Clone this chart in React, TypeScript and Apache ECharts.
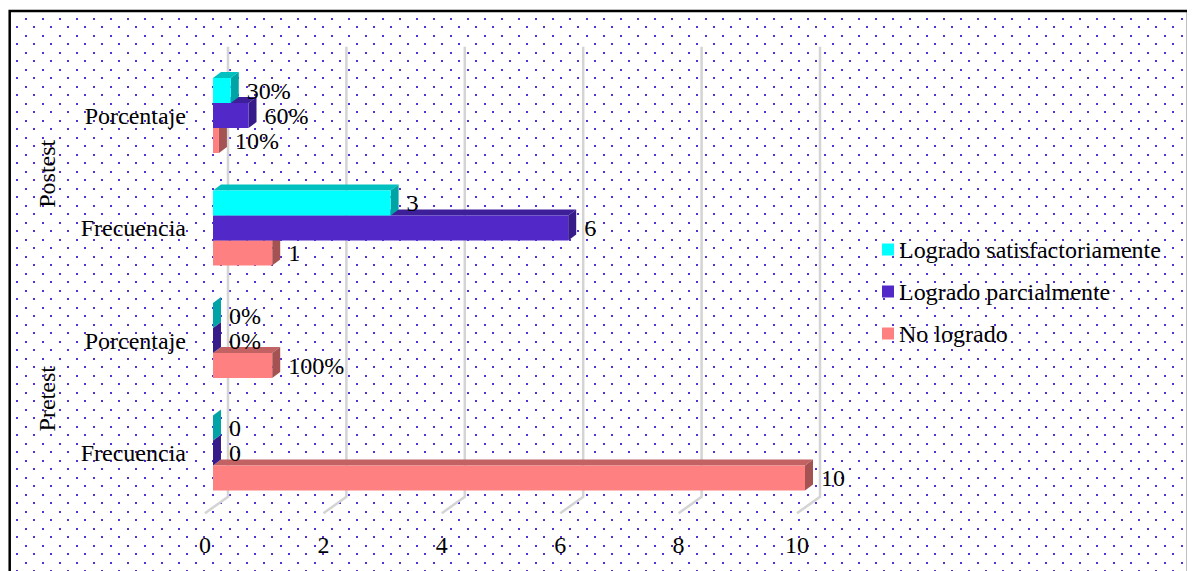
import React, { useEffect, useRef } from "react";
import * as echarts from "echarts";

// Category axis (bottom to top): Pretest Frecuencia, Pretest Porcentaje, Postest Frecuencia, Postest Porcentaje
const categories = ["Frecuencia", "Porcentaje", "Frecuencia", "Porcentaje"];
const groups = ["Pretest", "Postest"];
const seriesNames = ["Logrado satisfactoriamente", "Logrado parcialmente", "No logrado"];

// Values per category (percentages plotted as fractions, as in the original chart)
const logradoSatisfactoriamente = [0, 0, 3, 0.3];
const logradoParcialmente = [0, 0, 6, 0.6];
const noLogrado = [10, 1, 1, 0.1];

const xTicks = [0, 2, 4, 6, 8, 10];

const FONT = '"Liberation Serif", "Times New Roman", serif';
const DX = 8;
const DY = 6;
const BAR_H = 25;

const palette = [
  { front: "#00FFFF", top: "#00C0C0", side: "#00A4A4" },
  { front: "#5229C8", top: "#3E1F9A", side: "#371B88" },
  { front: "#FF8080", top: "#C26262", side: "#A45252" },
];

function barRenderer(pos: number, colors: { front: string; top: string; side: string }) {
  return (params: any, api: any) => {
    const val = api.value(0) as number;
    const cat = api.value(1) as number;
    const start = api.coord([0, cat]);
    const end = api.coord([val, cat]);
    const x0 = start[0];
    const x1 = end[0];
    const y0 = start[1] - 1.5 * BAR_H + pos * BAR_H;
    const y1 = y0 + BAR_H;
    const isPct = categories[cat] === "Porcentaje";
    const label = isPct ? Math.round(val * 100) + "%" : String(val);
    return {
      type: "group",
      children: [
        {
          type: "polygon",
          shape: { points: [[x0, y0], [x1, y0], [x1 + DX, y0 - DY], [x0 + DX, y0 - DY]] },
          style: { fill: colors.top },
        },
        {
          type: "polygon",
          shape: { points: [[x1, y0], [x1 + DX, y0 - DY], [x1 + DX, y1 - DY], [x1, y1]] },
          style: { fill: colors.side },
        },
        {
          type: "rect",
          shape: { x: x0, y: y0, width: x1 - x0, height: BAR_H },
          style: { fill: colors.front },
        },
        {
          type: "text",
          x: x1 + 16,
          y: (y0 + y1) / 2,
          z2: 10,
          style: {
            text: label,
            fill: "#000",
            fontSize: 24,
            fontFamily: FONT,
            align: "left",
            verticalAlign: "middle",
          },
        },
      ],
    };
  };
}

export default function App() {
  const ref = useRef<HTMLDivElement>(null);

  useEffect(() => {
    if (!ref.current) return;
    document.documentElement.style.overflow = "hidden";
    const chart = echarts.init(ref.current, null, { renderer: "svg" });

    const canvas = document.createElement("canvas");
    canvas.width = 17;
    canvas.height = 17;
    const ctx = canvas.getContext("2d");
    if (ctx) {
      ctx.fillStyle = "#ffffff";
      ctx.fillRect(0, 0, 17, 17);
      ctx.fillStyle = "#5530d8";
      ctx.fillRect(8, 1, 2, 2);
      ctx.fillRect(0, 10, 2, 2);
    }
    const pattern = {
      image: canvas.toDataURL(),
      repeat: "repeat",
      imageWidth: 17,
      imageHeight: 17,
    };

    const valueLists = [logradoSatisfactoriamente, logradoParcialmente, noLogrado];

    const barSeries = [2, 1, 0].map((i) => ({
      type: "custom",
      name: seriesNames[i],
      itemStyle: { color: palette[i].front },
      renderItem: barRenderer(i, palette[i]),
      data: valueLists[i].map((v, c) => [v, c]),
      encode: { x: 0, y: 1 },
      silent: true,
    }));

    const option: any = {
      animation: false,
      graphic: [
        {
          type: "rect",
          z: -10,
          silent: true,
          shape: { x: 1.7, y: 3, width: 1178.3, height: 700 },
          style: { fill: pattern },
        },
        {
          type: "rect",
          z: 100,
          silent: true,
          shape: { x: 1.7, y: 3, width: 1178.3, height: 700 },
          style: { fill: "none", stroke: "#000", lineWidth: 2.5 },
        },
      ],
      grid: { left: 205, top: 51.25, width: 592, height: 450 },
      legend: {
        orient: "vertical",
        left: 869,
        top: 224.5,
        itemWidth: 12,
        itemHeight: 12,
        itemGap: 18,
        icon: "rect",
        selectedMode: false,
        textStyle: { fontSize: 24, fontFamily: FONT, color: "#000", lineHeight: 24 },
        data: seriesNames,
      },
      xAxis: {
        type: "value",
        min: 0,
        max: 10,
        interval: 2,
        axisLine: { show: false },
        axisTick: { show: false },
        splitLine: { show: false },
        axisLabel: {
          fontSize: 24,
          fontFamily: FONT,
          color: "#000",
          margin: 24,
          padding: [0, 16, 0, 0],
        },
      },
      yAxis: [
        {
          type: "category",
          data: categories,
          axisLine: { show: false },
          axisTick: { show: false },
          splitLine: { show: false },
          axisLabel: {
            fontSize: 24,
            fontFamily: FONT,
            color: "#000",
            margin: 27,
            padding: [6, 0, 0, 0],
          },
        },
        {
          type: "category",
          data: groups,
          position: "left",
          offset: 146,
          axisLine: { show: false },
          axisTick: { show: false },
          splitLine: { show: false },
          axisLabel: {
            rotate: 90,
            fontSize: 24,
            fontFamily: FONT,
            color: "#000",
            margin: 8,
            padding: [0, 4, 0, 0],
          },
        },
      ],
      series: [
        {
          type: "custom",
          name: "grid3d",
          silent: true,
          z: 1,
          renderItem: (params: any, api: any) => {
            const v = api.value(0);
            const p = api.coord([v, 0]);
            const cs = params.coordSys;
            const top = cs.y;
            const bottom = cs.y + cs.height;
            const x = p[0];
            return {
              type: "polyline",
              shape: {
                points: [
                  [x + 15, top - 12.5],
                  [x + 15, bottom - 12.5],
                  [x - 8, bottom + 4],
                ],
              },
              style: { stroke: "#d4d4d4", lineWidth: 2.5, fill: "none" },
            };
          },
          data: xTicks.map((v) => [v, 0]),
          encode: { x: 0, y: 1 },
        },
        ...barSeries,
      ],
    };

    chart.setOption(option);
    return () => {
      chart.dispose();
    };
  }, []);

  return <div ref={ref} style={{ width: 1184, height: 575 }} />;
}
